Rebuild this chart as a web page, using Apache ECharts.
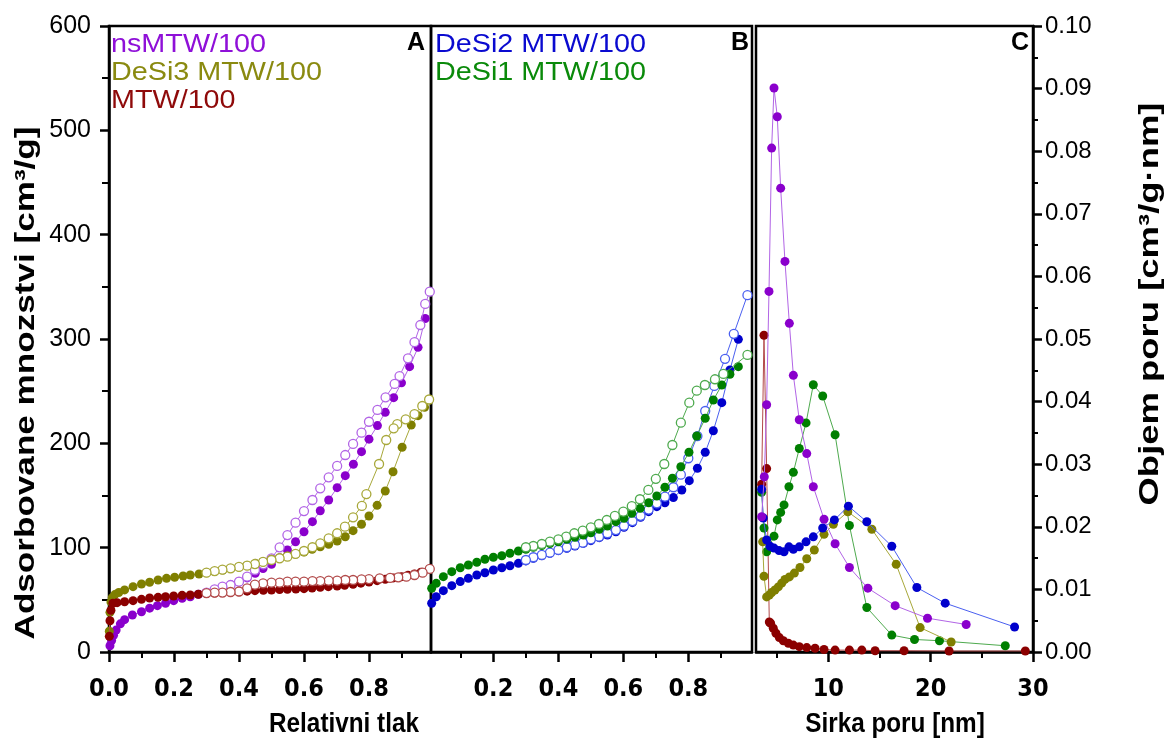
<!DOCTYPE html>
<html>
<head>
<meta charset="utf-8">
<script src="https://cdn.jsdelivr.net/npm/echarts@6/dist/echarts.min.js"></script>
<style>
html,body{margin:0;padding:0;background:#fff;}
#chart{width:1170px;height:742px;}
</style>
</head>
<body>
<div id="chart"></div>
<script>
// ---- Panel A: N2 isotherms [relative pressure, adsorbed amount cm3/g] ----
const nsAds = [[0.003,6],[0.008,11],[0.014,16],[0.022,21],[0.035,27],[0.048,31],[0.072,35.5],[0.1,38.6],[0.125,42],[0.149,44.4],[0.174,46.7],[0.199,49.2],[0.225,51.5],[0.25,53],[0.275,55.3],[0.3,57],[0.325,59.5],[0.35,62],[0.375,64.5],[0.4,67.5],[0.425,71],[0.45,75.5],[0.474,80],[0.5,84],[0.525,90],[0.549,97.8],[0.574,105.7],[0.6,115.3],[0.626,124.9],[0.65,135.4],[0.676,145.7],[0.702,157.5],[0.727,169],[0.752,180],[0.777,192],[0.8,204],[0.826,217],[0.85,229.7],[0.876,243.8],[0.9,258],[0.925,273.5],[0.951,292],[0.973,319.7]];
const nsDes = [[0.987,345.4],[0.973,333.6],[0.958,313.4],[0.94,297],[0.92,281.5],[0.894,264.5],[0.879,256.9],[0.851,244.1],[0.826,232],[0.8,220.7],[0.777,210.2],[0.751,199.4],[0.727,188.8],[0.702,178.3],[0.676,167.4],[0.65,156.9],[0.626,145.7],[0.6,135.1],[0.574,124],[0.549,112.1],[0.525,100.3],[0.5,89.8],[0.475,84],[0.449,78.6],[0.425,72.2],[0.4,67.4],[0.374,64.2],[0.349,62.6],[0.325,60.1],[0.3,56.8]];
const d3Ads = [[0.001,20],[0.003,38],[0.006,48],[0.01,52],[0.018,55],[0.03,57],[0.048,59.5],[0.074,62.6],[0.1,65.2],[0.125,66.8],[0.151,69],[0.177,70.6],[0.202,71.6],[0.228,72.8],[0.25,73.8],[0.277,74.8],[0.3,76],[0.325,77.2],[0.35,78.5],[0.375,80],[0.4,81.5],[0.425,83],[0.45,85],[0.474,86.6],[0.5,88.9],[0.525,90.4],[0.549,92],[0.574,93.9],[0.6,95.8],[0.625,98.4],[0.65,100.9],[0.676,103.2],[0.702,106.4],[0.727,110.5],[0.751,116.3],[0.777,122.4],[0.8,130.4],[0.825,140.6],[0.85,154.3],[0.874,172.8],[0.902,196.2],[0.93,217.6],[0.951,226.5],[0.971,234.5]];
const d3Des = [[0.985,242],[0.964,235.8],[0.94,228],[0.913,223],[0.887,218.5],[0.876,214.4],[0.853,203.2],[0.831,180.2],[0.792,151.4],[0.778,140],[0.751,129.1],[0.726,120.1],[0.702,113.8],[0.676,109],[0.65,104.2],[0.626,100.4],[0.6,96.8],[0.574,94],[0.549,91.4],[0.525,89.8],[0.5,88.2],[0.474,86.3],[0.449,84.3],[0.425,82.7],[0.4,81.5],[0.374,80.2],[0.349,78.9],[0.325,77.6],[0.3,76]];
const mtwAds = [[0.001,15],[0.003,30],[0.006,40],[0.012,46.7],[0.025,47.3],[0.048,48.2],[0.074,49.2],[0.1,50.5],[0.125,51.8],[0.151,52.4],[0.174,53],[0.199,53.7],[0.225,54.3],[0.25,54.6],[0.275,55.3],[0.3,56],[0.325,56.5],[0.35,57],[0.375,57.4],[0.4,57.8],[0.425,58.3],[0.449,58.8],[0.475,59.1],[0.5,59.4],[0.525,59.8],[0.549,60.1],[0.575,60.4],[0.6,60.7],[0.625,61.3],[0.65,62],[0.675,62.6],[0.702,63.3],[0.725,64],[0.751,64.9],[0.775,66],[0.8,67.1],[0.825,68.4],[0.85,69.7],[0.875,71],[0.9,72.2],[0.92,73.5],[0.94,74.8],[0.96,76.5]];
const mtwDes = [[0.987,79.6],[0.965,76],[0.94,73.8],[0.915,72.2],[0.89,71.6],[0.865,71],[0.833,70.6],[0.8,69.9],[0.777,69.6],[0.751,69],[0.727,69],[0.702,68.4],[0.676,68.4],[0.65,68],[0.626,68],[0.6,67.4],[0.574,67.4],[0.549,67.4],[0.525,66.4],[0.5,66.4],[0.474,65.8],[0.449,64.5],[0.425,61],[0.4,58],[0.374,57.5],[0.349,57],[0.325,57],[0.3,56.5]];

// ---- Panel B ----
const d2Ads = [[0.01,46.7],[0.024,53],[0.046,58.8],[0.072,63.6],[0.098,67.5],[0.123,70.6],[0.149,73.8],[0.174,76],[0.2,78.6],[0.226,80.8],[0.251,82.7],[0.277,85],[0.3,87.3],[0.323,89.8],[0.349,92.2],[0.374,94.6],[0.4,97.1],[0.426,99.4],[0.451,101.6],[0.477,104.2],[0.5,106.7],[0.526,109.6],[0.551,112.1],[0.577,115.3],[0.602,119.5],[0.628,124],[0.653,129.1],[0.678,134.5],[0.703,139.3],[0.728,143],[0.754,148],[0.78,155.3],[0.803,164.2],[0.828,176.1],[0.852,191.4],[0.877,212.1],[0.903,239],[0.928,270.3],[0.954,299.7]];
const d2Des = [[0.982,342],[0.94,305],[0.913,281],[0.88,255],[0.852,231],[0.828,207],[0.8,185.7],[0.777,170],[0.754,157.9],[0.728,148.9],[0.703,142.5],[0.678,136.5],[0.653,130.5],[0.628,125.5],[0.602,121],[0.577,116.9],[0.551,113.8],[0.525,110.5],[0.5,108],[0.475,104.8],[0.451,102.6],[0.426,100.4],[0.4,97.8],[0.374,95.2],[0.349,93],[0.323,90.8],[0.3,88.2]];
const d1Ads = [[0.01,61],[0.024,65.8],[0.046,72.2],[0.072,77],[0.098,80.8],[0.123,83.4],[0.149,86],[0.174,88.9],[0.2,90.8],[0.226,92.3],[0.251,94.6],[0.277,96.8],[0.3,98.5],[0.323,100.3],[0.349,102],[0.374,104],[0.4,105.7],[0.426,108],[0.451,110],[0.477,112.1],[0.5,114.3],[0.526,117.6],[0.551,120.8],[0.577,124.9],[0.602,128.1],[0.626,132.9],[0.652,137.7],[0.678,143.1],[0.703,149.5],[0.728,157.9],[0.751,166.5],[0.777,177.6],[0.802,191.4],[0.826,207],[0.852,224],[0.877,241.5],[0.903,255.9],[0.928,266.2],[0.954,273.5]];
const d1Des = [[0.982,284.7],[0.908,266.5],[0.882,261.4],[0.851,255.9],[0.826,250.5],[0.803,239],[0.777,219.8],[0.751,198.4],[0.726,180.2],[0.7,166],[0.677,155.3],[0.651,146.4],[0.626,139.9],[0.6,134.5],[0.574,130.4],[0.549,126.5],[0.525,122.7],[0.5,119.5],[0.475,116.3],[0.449,113.8],[0.424,110.5],[0.4,108],[0.374,105.7],[0.349,103.5],[0.323,101.6],[0.3,100.4]];

// ---- Panel C: pore size distributions [pore width nm, pore volume cm3/g.nm] ----
const psdNs = [[3.48,0.0216],[3.74,0.028],[3.97,0.0395],[4.2,0.0576],[4.46,0.0805],[4.69,0.0901],[5.01,0.0855],[5.34,0.0741],[5.76,0.0624],[6.19,0.0525],[6.58,0.0442],[7.16,0.0371],[7.89,0.0317],[8.53,0.0264],[9.58,0.0212],[10.66,0.0173],[12.06,0.0135],[13.86,0.0102],[16.53,0.0074],[19.69,0.0054],[23.47,0.0044]];
const psdMtw = [[3.48,0.0268],[3.71,0.0506],[3.97,0.0293],[4.23,0.0048],[4.36,0.0046],[4.62,0.0038],[4.88,0.003],[5.21,0.0023],[5.6,0.0018],[6.09,0.0014],[6.58,0.0011],[7.16,0.00085],[7.89,0.0007],[8.7,0.0006],[9.58,0.0004],[10.66,0.0003],[12.06,0.0003],[13.27,0.0003],[14.57,0.0002],[17.4,0.0002],[21.8,0.00016],[29.25,0.00016]];
const psdD1 = [[3.48,0.0255],[3.71,0.0198],[3.97,0.016],[4.69,0.0185],[5.01,0.0211],[5.34,0.0223],[5.67,0.0235],[6.15,0.0264],[6.58,0.0287],[7.16,0.0325],[7.82,0.0366],[8.53,0.0427],[9.45,0.0409],[10.66,0.0347],[12.06,0.0202],[13.76,0.0071],[16.2,0.0027],[18.42,0.002],[20.86,0.0018],[27.29,0.001]];
const psdD2 = [[3.48,0.026],[3.64,0.0214],[3.97,0.0179],[4.3,0.0169],[4.69,0.0166],[5.18,0.0162],[5.67,0.016],[6.15,0.0168],[6.58,0.0164],[7.16,0.0168],[7.82,0.0176],[8.53,0.0184],[9.45,0.0198],[10.59,0.0211],[11.96,0.0233],[13.76,0.0208],[16.2,0.0169],[18.65,0.0103],[21.42,0.0078],[28.2,0.004]];
const psdD3 = [[3.58,0.0176],[3.71,0.0121],[3.97,0.0088],[4.23,0.0091],[4.46,0.0095],[4.78,0.0099],[5.11,0.0104],[5.44,0.011],[5.76,0.0116],[6.19,0.012],[6.68,0.0126],[7.23,0.0135],[7.89,0.0149],[8.63,0.0163],[9.58,0.0188],[10.49,0.0204],[11.9,0.0224],[14.25,0.0196],[16.63,0.014],[18.97,0.0039],[22,0.0016]];

// ---- tick values ----
const ticksA = [0, 0.2, 0.4, 0.6, 0.8];
const ticksB = [0.2, 0.4, 0.6, 0.8];
const minorAB = [0.1, 0.3, 0.5, 0.7, 0.9];
const ticksC = [10, 20, 30];
const minorC = [5, 15, 25];

const sampleNames = ['nsMTW/100', 'DeSi3 MTW/100', 'MTW/100', 'DeSi2 MTW/100', 'DeSi1 MTW/100'];

const COL = {
  ns:  {dark:'#8a00cc', light:'#b265e6', text:'#8f10d8'},
  d3:  {dark:'#7f7f00', light:'#a8a83a', text:'#8a8a10'},
  mtw: {dark:'#8b0000', light:'#b24a4a', text:'#8f0a0a'},
  d2:  {dark:'#0000cc', light:'#4a5ff0', text:'#0a0ad0'},
  d1:  {dark:'#007f00', light:'#4eaa4e', text:'#0a8a0a'}
};

const narrow = "'Liberation Sans Narrow','Arial Narrow','DejaVu Sans Condensed',sans-serif";
const sans = "'Liberation Sans',Arial,sans-serif";

function filled(name, data, c, xi, yi, z) {
  return {name, type:'line', data, xAxisIndex:xi, yAxisIndex:yi, symbol:'circle', symbolSize:9,
    showSymbol:true, z:z||2, lineStyle:{color:c.light, width:1},
    itemStyle:{color:c.dark, borderWidth:0}, emphasis:{disabled:true}, silent:true, clip:true};
}
function hollow(name, data, c, xi, yi, z) {
  return {name, type:'line', data, xAxisIndex:xi, yAxisIndex:yi, symbol:'circle', symbolSize:9,
    showSymbol:true, z:z||3, lineStyle:{color:c.light, width:1},
    itemStyle:{color:'#ffffff', borderColor:c.light, borderWidth:1.3}, emphasis:{disabled:true}, silent:true, clip:true};
}

function majorX(grid, min, max, ticks, digits) {
  return {type:'value', gridIndex:grid, min, max, position:'bottom',
    axisLine:{show:true, lineStyle:{color:'#000', width:2.5}},
    axisTick:{show:true, customValues:ticks, length:10, lineStyle:{color:'#000', width:2.5}},
    axisLabel:{show:true, customValues:ticks, margin:25, color:'#000', fontFamily:narrow, fontWeight:'bold', fontSize:25,
      formatter:v => Number(v).toFixed(digits)},
    splitLine:{show:false}};
}
function minorX(grid, min, max, ticks) {
  return {type:'value', gridIndex:grid, min, max, position:'bottom', offset:0,
    axisLine:{show:false}, axisLabel:{show:false}, splitLine:{show:false},
    axisTick:{show:true, customValues:ticks, length:6, lineStyle:{color:'#000', width:2}}};
}

const option = {
  animation:false,
  backgroundColor:'#fff',
  grid:[
    {left:109, top:26, width:322, height:626, show:true, borderColor:'#000', borderWidth:2.5, backgroundColor:'transparent'},
    {left:431, top:26, width:321, height:626, show:true, borderColor:'#000', borderWidth:2.5, backgroundColor:'transparent'},
    {left:756, top:26, width:277, height:626, show:true, borderColor:'#000', borderWidth:2.5, backgroundColor:'transparent'}
  ],
  xAxis:[
    majorX(0, 0, 0.9908, ticksA, 1),
    minorX(0, 0, 0.9908, minorAB),
    majorX(1, 0.008, 0.996, ticksB, 1),
    minorX(1, 0.008, 0.996, minorAB),
    majorX(2, 2.93, 30, ticksC, 0),
    minorX(2, 2.93, 30, minorC)
  ],
  yAxis:[
    {type:'value', gridIndex:0, min:0, max:600, interval:100, position:'left',
      axisLine:{show:true, lineStyle:{color:'#000', width:2.5}},
      axisTick:{show:true, length:9, lineStyle:{color:'#000', width:2.5}},
      minorTick:{show:true, splitNumber:2, length:7, lineStyle:{color:'#000', width:2}},
      axisLabel:{margin:18, color:'#000', fontFamily:sans, fontSize:25},
      splitLine:{show:false}},
    {type:'value', gridIndex:1, min:0, max:600, show:false},
    {type:'value', gridIndex:2, min:0, max:0.1, interval:0.01, position:'right',
      axisLine:{show:true, lineStyle:{color:'#000', width:2.5}},
      axisTick:{show:true, length:9, lineStyle:{color:'#000', width:2.5}},
      minorTick:{show:true, splitNumber:2, length:5, lineStyle:{color:'#000', width:2}},
      axisLabel:{margin:12, color:'#000', fontFamily:sans, fontSize:24, formatter:v => v.toFixed(2)},
      splitLine:{show:false}}
  ],
  series:[
    filled('nsMTW/100 ads', nsAds, COL.ns, 0, 0, 2),
    hollow('nsMTW/100 des', nsDes, COL.ns, 0, 0, 3),
    filled('DeSi3 MTW/100 ads', d3Ads, COL.d3, 0, 0, 4),
    hollow('DeSi3 MTW/100 des', d3Des, COL.d3, 0, 0, 5),
    filled('MTW/100 ads', mtwAds, COL.mtw, 0, 0, 6),
    hollow('MTW/100 des', mtwDes, COL.mtw, 0, 0, 7),

    filled('DeSi2 MTW/100 ads', d2Ads, COL.d2, 2, 1, 2),
    hollow('DeSi2 MTW/100 des', d2Des, COL.d2, 2, 1, 3),
    filled('DeSi1 MTW/100 ads', d1Ads, COL.d1, 2, 1, 4),
    hollow('DeSi1 MTW/100 des', d1Des, COL.d1, 2, 1, 5),

    filled('MTW/100 psd', psdMtw, COL.mtw, 4, 2, 2),
    filled('DeSi1 MTW/100 psd', psdD1, COL.d1, 4, 2, 3),
    filled('DeSi3 MTW/100 psd', psdD3, COL.d3, 4, 2, 4),
    filled('DeSi2 MTW/100 psd', psdD2, COL.d2, 4, 2, 5),
    filled('nsMTW/100 psd', psdNs, COL.ns, 4, 2, 6)
  ],
  graphic:[
    // sample names
    {type:'text', left:111, top:33, scaleX:1.15, style:{text:sampleNames[0], fill:COL.ns.text, font:'25px '+sans}},
    {type:'text', left:111, top:61, scaleX:1.15, style:{text:sampleNames[1], fill:COL.d3.text, font:'25px '+sans}},
    {type:'text', left:111, top:89, scaleX:1.15, style:{text:sampleNames[2], fill:COL.mtw.text, font:'25px '+sans}},
    {type:'text', left:435, top:33, scaleX:1.15, style:{text:sampleNames[3], fill:COL.d2.text, font:'25px '+sans}},
    {type:'text', left:435, top:61, scaleX:1.15, style:{text:sampleNames[4], fill:COL.d1.text, font:'25px '+sans}},
    // panel letters
    {type:'text', left:407, top:31, style:{text:'A', fill:'#000', font:'bold 25px '+sans}},
    {type:'text', left:731, top:31, style:{text:'B', fill:'#000', font:'bold 25px '+sans}},
    {type:'text', left:1011, top:31, style:{text:'C', fill:'#000', font:'bold 25px '+sans}},
    // axis titles
    {type:'text', x:344, y:725, scaleX:0.9, style:{text:'Relativni tlak', fill:'#000', font:'bold 27px '+sans, align:'center', verticalAlign:'middle'}},
    {type:'text', x:895, y:725, scaleX:0.9, style:{text:'Sirka poru [nm]', fill:'#000', font:'bold 27px '+sans, align:'center', verticalAlign:'middle'}},
    {type:'text', x:27, y:383, rotation:Math.PI/2, scaleX:1.3, style:{text:'Adsorbovane mnozstvi [cm³/g]', fill:'#000', font:'bold 27px '+sans, align:'center', verticalAlign:'middle'}},
    {type:'text', x:1151, y:304, rotation:Math.PI/2, scaleX:1.35, style:{text:'Objem poru [cm³/g·nm]', fill:'#000', font:'bold 27px '+sans, align:'center', verticalAlign:'middle'}}
  ]
};

const chart = echarts.init(document.getElementById('chart'), null, {renderer:'canvas'});
chart.setOption(option);
</script>
</body>
</html>
